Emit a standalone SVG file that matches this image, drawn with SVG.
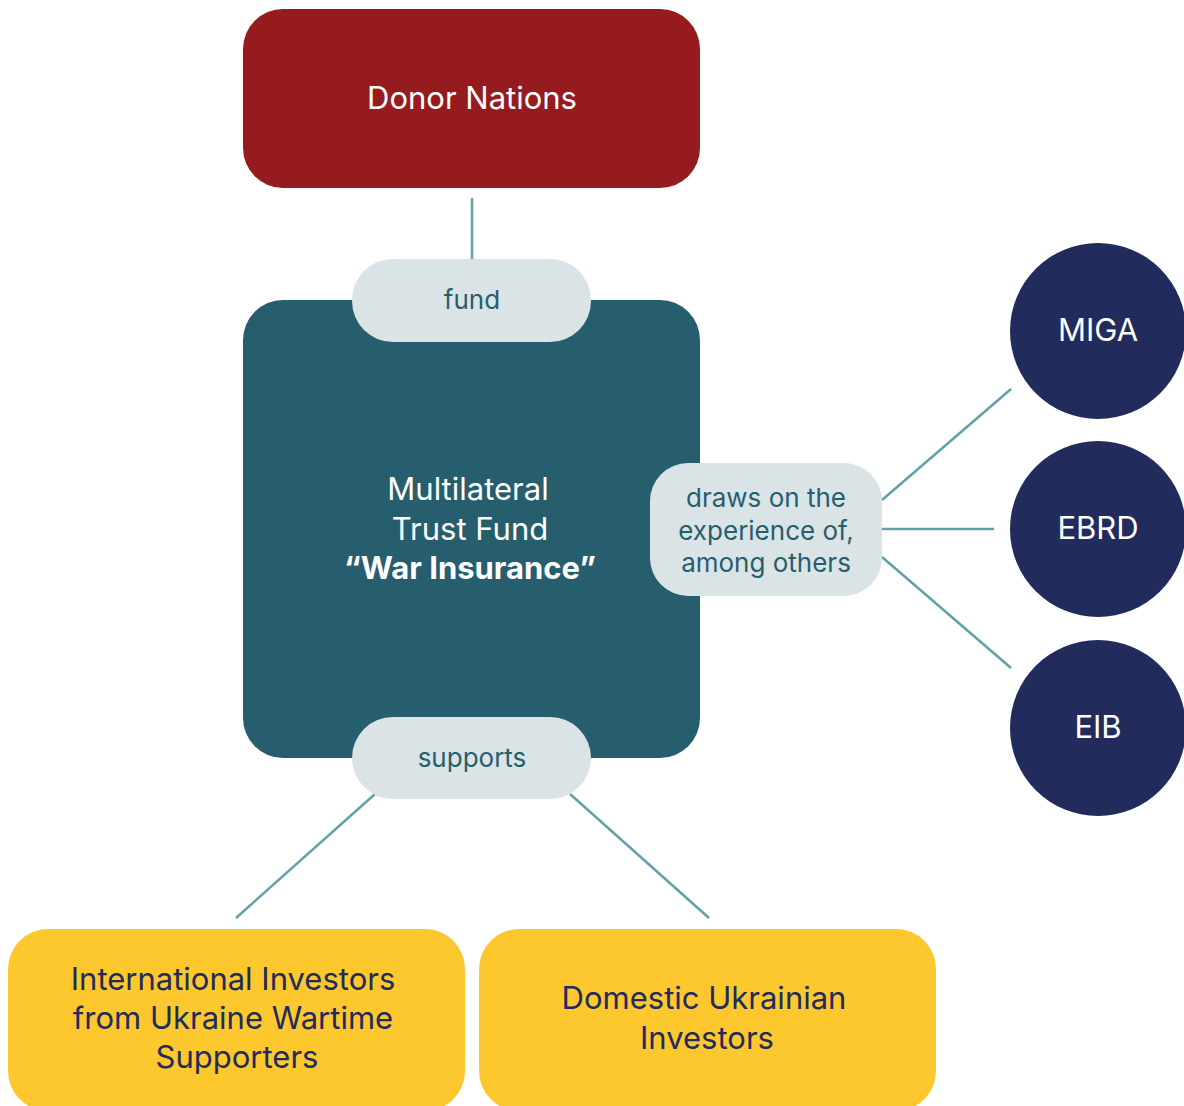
<svg xmlns="http://www.w3.org/2000/svg" width="1184" height="1106" viewBox="0 0 1184 1106">
<style>
text{font-family:Inter,"Noto Sans","Liberation Sans",sans-serif;text-anchor:middle}
.w{fill:#ffffff;font-size:31px}
.n{fill:#212B5C;font-size:31px}
.l{fill:#275E6E;font-size:26px}
.pill{fill:#DAE3E6}
.c{stroke:#5FA3A8;stroke-width:2.5;fill:none}
.circ{fill:#212B5C}
</style>
<rect width="1184" height="1106" fill="#ffffff"/>
<g id="connectors">
<line class="c" x1="472" y1="198" x2="472" y2="262"/>
<line class="c" x1="882" y1="500" x2="1011" y2="389"/>
<line class="c" x1="882" y1="529" x2="994" y2="529"/>
<line class="c" x1="882" y1="557" x2="1011" y2="668"/>
<line class="c" x1="375" y1="794" x2="236" y2="918"/>
<line class="c" x1="570" y1="794" x2="709" y2="918"/>
</g>
<g id="donor">
<rect x="243" y="9" width="457" height="179" rx="40" fill="#951B1F"/>
<text class="w" x="472" y="109">Donor Nations</text>
</g>
<g id="fund-main">
<rect x="243" y="300" width="457" height="458" rx="40" fill="#275E6E"/>
<text class="w" x="468" y="500">Multilateral</text>
<text class="w" x="470" y="540">Trust Fund</text>
<text class="w" x="470" y="579" font-weight="bold">“War Insurance”</text>
</g>
<g id="label-fund">
<rect class="pill" x="352" y="259" width="239" height="83" rx="41"/>
<text class="l" x="472" y="309">fund</text>
</g>
<g id="label-draws">
<rect class="pill" x="650" y="463" width="232" height="133" rx="38"/>
<text class="l" x="766" y="507">draws on the</text>
<text class="l" x="766" y="540">experience of,</text>
<text class="l" x="766" y="572">among others</text>
</g>
<g id="label-supports">
<rect class="pill" x="352" y="717" width="239" height="82" rx="41"/>
<text class="l" x="472" y="767">supports</text>
</g>
<g id="miga">
<circle class="circ" cx="1098" cy="331" r="88"/>
<text class="w" x="1098" y="341">MIGA</text>
</g>
<g id="ebrd">
<circle class="circ" cx="1098" cy="529" r="88"/>
<text class="w" x="1098" y="539">EBRD</text>
</g>
<g id="eib">
<circle class="circ" cx="1098" cy="728" r="88"/>
<text class="w" x="1098" y="738">EIB</text>
</g>
<g id="international">
<rect x="8" y="929" width="457" height="182" rx="40" fill="#FDC72E"/>
<text class="n" x="233" y="990">International Investors</text>
<text class="n" x="233" y="1029">from Ukraine Wartime</text>
<text class="n" x="237" y="1068">Supporters</text>
</g>
<g id="domestic">
<rect x="479" y="929" width="457" height="182" rx="40" fill="#FDC72E"/>
<text class="n" x="704" y="1009">Domestic Ukrainian</text>
<text class="n" x="707" y="1049">Investors</text>
</g>
</svg>
